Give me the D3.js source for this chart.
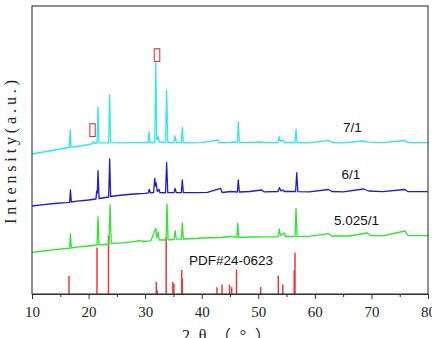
<!DOCTYPE html>
<html>
<head>
<meta charset="utf-8">
<script src="https://cdn.jsdelivr.net/npm/d3@7"></script>
<style>
  body { margin: 0; background: #fff; }
  svg { display: block; }
</style>
</head>
<body>
<svg id="chart" width="432" height="338"></svg>
<script>
// XRD patterns: [2theta, intensity (a.u.)]
const series71 = [
  [10, 1400], [12, 1420], [14, 1440], [16, 1460], [16.6, 1465], [16.75, 1640], [16.9, 1468],
  [18, 1475], [19.5, 1490], [20.5, 1500], [20.95, 1525], [21.1, 1505], [21.5, 1510],
  [21.67, 1873], [21.85, 1512], [23.55, 1512], [23.72, 1993], [23.9, 1513], [26, 1512],
  [28, 1513], [30, 1515], [30.55, 1515], [30.7, 1623], [30.85, 1515], [31.7, 1515],
  [31.88, 2323], [32.05, 1540], [32.3, 1573], [32.5, 1520], [33.6, 1515], [33.8, 2040],
  [34.0, 1515], [35.1, 1515], [35.3, 1580], [35.5, 1515], [36.4, 1515], [36.57, 1667],
  [36.75, 1515], [38, 1512], [40, 1513], [42.9, 1540], [43.1, 1513], [45, 1515], [45.5, 1520],
  [46.3, 1515], [46.47, 1723], [46.65, 1513], [48, 1513], [50.5, 1520], [51, 1513],
  [53.5, 1515], [53.7, 1573], [53.9, 1525], [54.4, 1540], [54.6, 1515], [56.5, 1515],
  [56.67, 1647], [56.85, 1515], [59, 1512], [62.4, 1535], [63, 1515], [65, 1512],
  [68.5, 1530], [69.5, 1518], [72, 1513], [75.9, 1535], [76.5, 1513], [80, 1513]
];
const series61 = [
  [10, 880], [12, 893], [14, 905], [16, 913], [16.65, 917], [16.8, 1040], [16.95, 920],
  [18, 928], [20, 940], [21.3, 950], [21.45, 1030], [21.55, 1010], [21.67, 1233], [21.85, 955],
  [23.55, 970], [23.73, 1350], [23.9, 975], [26, 990], [28, 1000], [30, 1007], [30.55, 1012],
  [30.74, 1047], [30.9, 1012], [31.5, 1015], [31.7, 1157], [31.85, 1080], [31.95, 1110],
  [32.15, 1025], [32.45, 1047], [32.6, 1015], [33.6, 1012], [33.8, 1313], [34.0, 1013],
  [35.1, 1013], [35.3, 1057], [35.5, 1013], [36.4, 1013], [36.57, 1140], [36.75, 1013],
  [39, 1013], [41, 1016], [43.35, 1057], [43.6, 1015], [45.2, 1025], [46.3, 1020],
  [46.47, 1140], [46.65, 1020], [48.5, 1025], [50.6, 1040], [51, 1022], [53.5, 1025],
  [53.75, 1063], [54.0, 1030], [54.4, 1040], [54.6, 1025], [56.6, 1025], [56.8, 1213],
  [57.0, 1023], [59, 1022], [62.4, 1045], [63, 1025], [65, 1022], [68.6, 1050], [69.5, 1030],
  [72, 1023], [75.9, 1045], [76.5, 1023], [80, 1023]
];
const series5025 = [
  [10, 417], [12, 430], [14, 443], [16, 455], [16.65, 457], [16.8, 600], [16.95, 460],
  [18, 468], [20, 480], [21.5, 490], [21.67, 773], [21.85, 492], [23.6, 500], [23.8, 890],
  [24.0, 503], [26, 512], [28, 523], [29.1, 535], [29.4, 525], [31.0, 532], [31.9, 657],
  [32.1, 560], [32.3, 620], [32.5, 540], [33.7, 540], [33.86, 900], [34.05, 542],
  [35.1, 545], [35.3, 633], [35.5, 548], [36.4, 548], [36.57, 710], [36.75, 550],
  [39, 555], [40, 560], [43.3, 565], [45.3, 575], [46.2, 567], [46.37, 707], [46.55, 567],
  [49, 570], [51, 572], [53.5, 572], [53.7, 650], [53.9, 585], [54.6, 610], [54.8, 575],
  [56.5, 575], [56.67, 857], [56.85, 577], [59, 577], [62.4, 603], [63, 580], [66, 580],
  [69.3, 610], [69.8, 585], [72, 582], [75.9, 630], [76.5, 583], [80, 583]
];
// PDF#24-0623 reference lines
const pdfPos = [16.54, 21.49, 23.52, 31.97, 32.15, 33.72, 34.90, 35.08, 36.46, 36.57,
  42.70, 43.59, 44.91, 45.30, 46.15, 50.43, 53.54, 54.33, 56.35, 56.49];
const pdfInt = [180, 466, 583, 120, 36, 573, 120, 100, 240, 153,
  68, 95, 93, 68, 243, 70, 185, 95, 238, 413];

const majorTicks = [10, 20, 30, 40, 50, 60, 70, 80];
const minorTicks = [15, 25, 35, 45, 55, 65, 75];
const seriesNames = ["7/1", "6/1", "5.025/1"];
const seriesColors = ["#2ee8ec", "#1c1cd0", "#2ee62e"];

const svg = d3.select('#chart');
const margin = {top: 6, right: 4, bottom: 44, left: 32},
  W = 432, H = 338;

const x = d3.scaleLinear().domain([10, 80]).range([margin.left, W - margin.right]);
const y = d3.scaleLinear().domain([0, 2880]).range([H - margin.bottom, margin.top]);

const line = d3.line().x(d => x(d[0])).y(d => y(d[1]));

// reference sticks
svg.append('g').selectAll('line')
  .data(pdfPos)
  .enter()
  .append('line')
    .attr('x1', d => x(d))
    .attr('x2', d => x(d))
    .attr('y1', y(0))
    .attr('y2', (d, i) => y(pdfInt[i]))
    .attr('stroke', '#e8383a')
    .attr('stroke-width', 1.5);

// patterns
[series71, series61, series5025].forEach((s, i) => {
  svg.append('path')
    .datum(s)
    .attr('d', line)
    .attr('fill', 'none')
    .attr('stroke', seriesColors[i])
    .attr('stroke-width', 1.3)
    .attr('stroke-linejoin', 'round');
});

// frame
svg.append('rect')
  .attr('x', x(10))
  .attr('y', y(2880))
  .attr('width', x(80) - x(10))
  .attr('height', y(0) - y(2880))
  .attr('fill', 'none')
  .attr('stroke', '#333')
  .attr('stroke-width', 1.1);

// x axis
const gX = svg.append('g')
  .attr('transform', 'translate(0,' + y(0) + ')')
  .call(d3.axisBottom(x).tickValues(majorTicks).tickSize(5).tickSizeOuter(0).tickPadding(7));
gX.selectAll('text')
  .attr('font-family', '"Liberation Serif", serif')
  .attr('font-size', 15)
  .attr('fill', '#222');
gX.select('.domain').attr('stroke', '#333');
gX.selectAll('line').attr('stroke', '#333');

const gMinor = svg.append('g')
  .attr('transform', 'translate(0,' + y(0) + ')')
  .call(d3.axisBottom(x).tickValues(minorTicks).tickSize(3).tickSizeOuter(0).tickFormat(''));
gMinor.select('.domain').remove();
gMinor.selectAll('line').attr('stroke', '#333');

// axis titles
svg.append('text')
  .attr('transform', 'translate(16,152) rotate(-90)')
  .attr('text-anchor', 'middle')
  .attr('font-family', '"Liberation Serif", serif')
  .attr('font-size', 16)
  .attr('fill', '#222')
  .attr('textLength', 144)
  .attr('lengthAdjust', 'spacing')
  .text('Intensity(a.u.)');

svg.append('text')
  .attr('x', 182)
  .attr('y', 341)
  .attr('font-family', '"Liberation Serif", "Noto Sans CJK SC", serif')
  .attr('font-size', 16)
  .attr('fill', '#222')
  .attr('textLength', 89)
  .attr('lengthAdjust', 'spacing')
  .text('2θ（°）');

// series labels
const labelFont = '"Liberation Sans", Arial, sans-serif';
svg.append('text').attr('x', 343).attr('y', 132).text(seriesNames[0]);
svg.append('text').attr('x', 341.5).attr('y', 179).text(seriesNames[1]);
svg.append('text').attr('x', 334).attr('y', 224.5).text(seriesNames[2]);
svg.append('text').attr('x', 189).attr('y', 264.5).text('PDF#24-0623');
svg.selectAll('text:not(.tick text)');
svg.selectAll('text')
  .filter(function() { return !this.getAttribute('font-family'); })
  .attr('font-family', labelFont)
  .attr('font-size', 13.5)
  .attr('fill', '#111');

// missing-glyph marks in red
svg.append('text').attr('x', 152).attr('y', 60).text('▯');
svg.append('text').attr('x', 87.5).attr('y', 134.5).text('▯');
svg.selectAll('text')
  .filter(function() { return this.textContent === '▯'; })
  .attr('font-family', '"DejaVu Sans", sans-serif')
  .attr('font-size', 18)
  .attr('fill', '#e03030');
</script>
</body>
</html>
